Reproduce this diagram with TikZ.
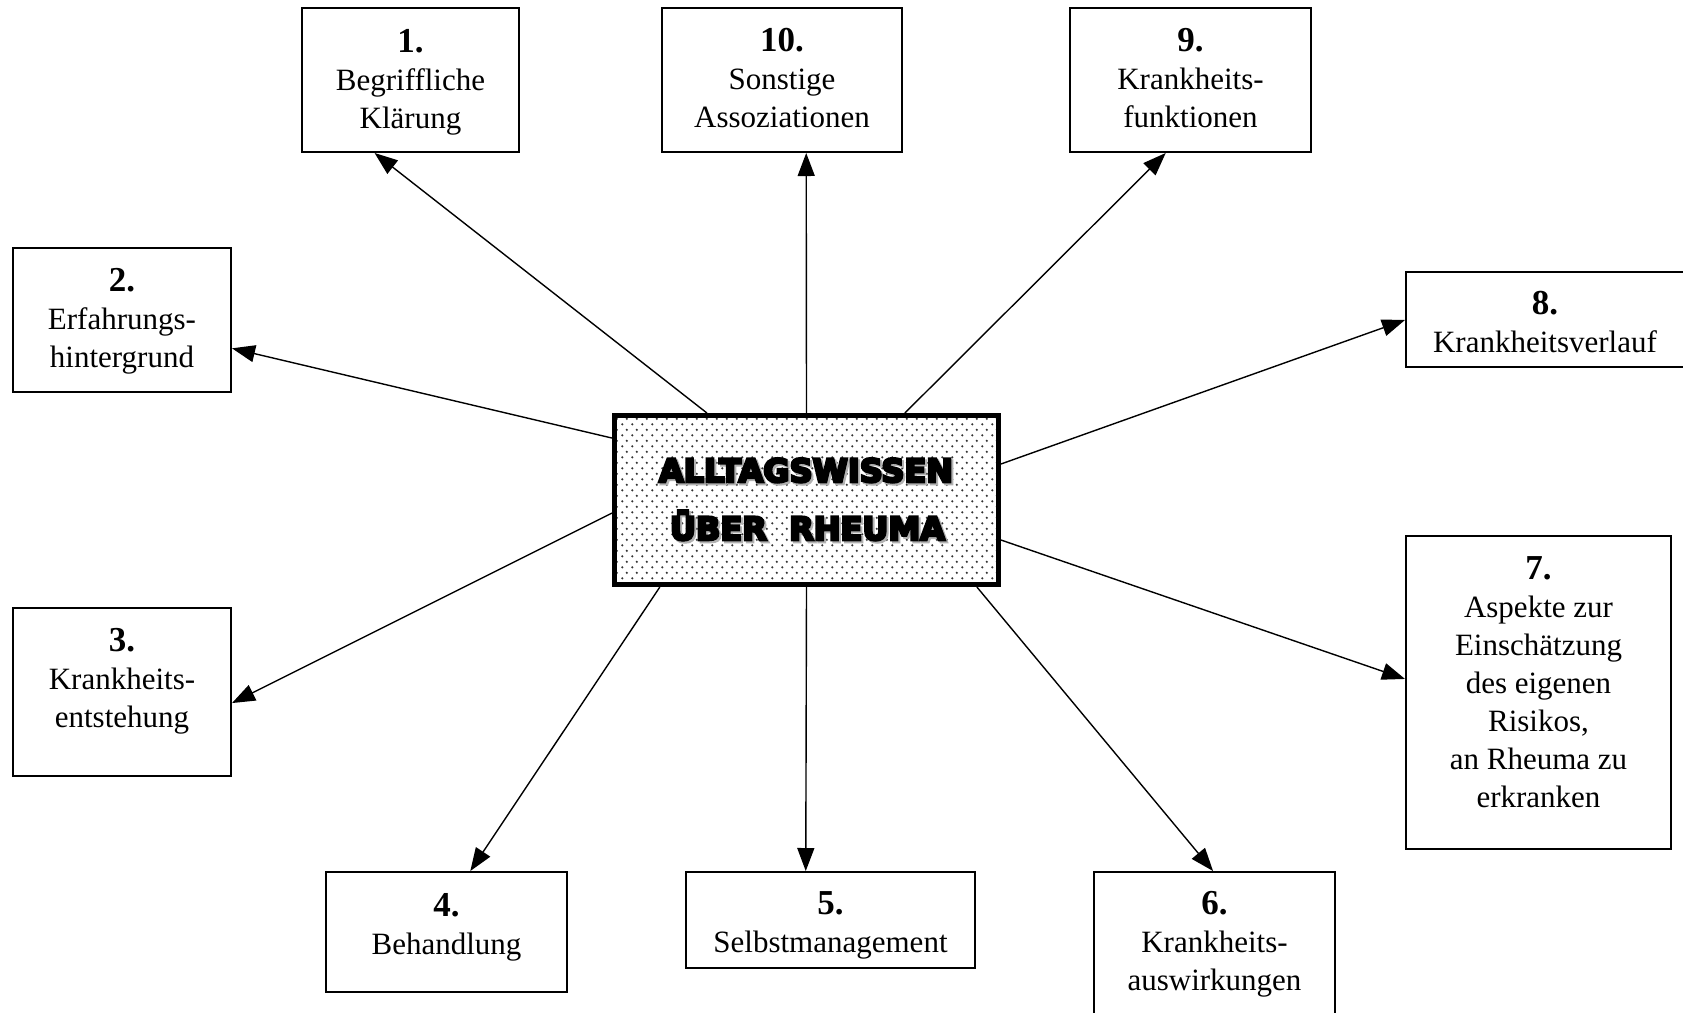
\documentclass[tikz,border=0pt]{standalone}
\usepackage{fontspec}
\setmainfont{Liberation Serif}
\newfontfamily\heavy[BoldFeatures={FakeBold=8}]{DejaVu Sans}
\usetikzlibrary{arrows.meta,calc,fit,patterns}
\pgfdeclarepatternformonly{stagdots}{\pgfqpoint{0pt}{0pt}}{\pgfqpoint{5pt}{5.7pt}}{\pgfqpoint{5pt}{5.7pt}}{%
  \pgfpathcircle{\pgfqpoint{1.25pt}{1.425pt}}{0.65pt}%
  \pgfpathcircle{\pgfqpoint{3.75pt}{4.275pt}}{0.65pt}%
  \pgfusepath{fill}}
\newcommand\bnum[1]{{\fontsize{17.5pt}{19pt}\selectfont\bfseries #1}}
\tikzset{
  box/.style={draw=black, line width=1pt, inner sep=0pt},
  txt/.style={align=center, inner sep=0pt, font=\fontsize{15.5pt}{19pt}\selectfont, anchor=north},
  arr/.style={line width=0.7pt, -{Triangle[length=11.5pt,width=8.5pt]}},
  centre/.style={draw=black, line width=2.5pt, inner sep=0pt, pattern=stagdots, pattern color=black!80},
  big/.style={font=\heavy\bfseries\fontsize{16pt}{20pt}\selectfont, inner sep=0pt, anchor=base},
  bigshadow/.style={big, text=black!30},
}
\begin{document}
\begin{tikzpicture}[x=0.5pt,y=-0.5pt]
\useasboundingbox (0,0) rectangle (1683,1013);
\clip (0,0) rectangle (1683,1013);
\fill[white] (0,0) rectangle (1683,1013);

% boxes
\node[box, fit={(302,8) (519,152)}] (b1) {};
\node[box, fit={(662,8) (902,152)}] (b10) {};
\node[box, fit={(1070,8) (1311,152)}] (b9) {};
\node[box, fit={(13,248) (231,392)}] (b2) {};
\node[box, fit={(1406,272) (1710,367)}] (b8) {};
\node[box, fit={(13,608) (231,776)}] (b3) {};
\node[box, fit={(1406,536) (1671,849)}] (b7) {};
\node[box, fit={(326,872) (567,992)}] (b4) {};
\node[box, fit={(686,872) (975,968)}] (b5) {};
\node[box, fit={(1094,872) (1335,1040)}] (b6) {};

% texts
\node[txt] (t1) at (410.5,29) {\bnum{1.}\\Begriffliche\\Klärung};
\node[txt] (t10) at (782,28) {\bnum{10.}\\Sonstige\\Assoziationen};
\node[txt] (t9) at (1190.5,28) {\bnum{9.}\\Krankheits-\\funktionen};
\node[txt] (t2) at (122,268) {\bnum{2.}\\Erfahrungs-\\hintergrund};
\node[txt] (t3) at (122,628) {\bnum{3.}\\Krankheits-\\entstehung};
\node[txt] (t8) at (1545,291) {\bnum{8.}\\Krankheitsverlauf};
\node[txt] (t7) at (1538.5,556) {\bnum{7.}\\Aspekte zur\\Einschätzung\\des eigenen\\Risikos,\\an Rheuma zu\\erkranken};
\node[txt] (t4) at (446.5,893) {\bnum{4.}\\Behandlung};
\node[txt] (t5) at (830.5,891) {\bnum{5.}\\Selbstmanagement};
\node[txt] (t6) at (1214.5,891) {\bnum{6.}\\Krankheits-\\auswirkungen};

% centre
\node[centre, fit={(614.5,415.5) (998.5,584.5)}] (c) {};
\node[bigshadow] (s1) at (808,484) {ALLTAGSWISSEN};
\node[bigshadow] (s2) at (809.5,542) {ÜBER\ \ RHEUMA};
\node[big] (m1) at (806,482) {ALLTAGSWISSEN};
\node[big] (m2) at (807.5,540) {ÜBER\ \ RHEUMA};

% arrows
\draw[arr] ($(c.north west)!0.244!(c.north east)$) -- ($(b1.south west)!0.336!(b1.south east)$);
\draw[arr] (c.north) -- ($(b10.south west)!0.6!(b10.south east)$);
\draw[arr] ($(c.north west)!0.753!(c.north east)$) -- ($(b9.south west)!0.398!(b9.south east)$);
\draw[arr] ($(c.north west)!0.144!(c.south west)$) -- ($(b2.north east)!0.694!(b2.south east)$);
\draw[arr] ($(c.north west)!0.575!(c.south west)$) -- ($(b3.north east)!0.565!(b3.south east)$);
\draw[arr] ($(c.north east)!0.293!(c.south east)$) -- ($(b8.north west)!0.505!(b8.south west)$);
\draw[arr] ($(c.north east)!0.730!(c.south east)$) -- ($(b7.north west)!0.457!(b7.south west)$);
\draw[arr] ($(c.south west)!0.123!(c.south east)$) -- ($(b4.north west)!0.598!(b4.north east)$);
\draw[arr] (c.south) -- ($(b5.north west)!0.415!(b5.north east)$);
\draw[arr] ($(c.south west)!0.938!(c.south east)$) -- ($(b6.north west)!0.494!(b6.north east)$);
\end{tikzpicture}
\end{document}
